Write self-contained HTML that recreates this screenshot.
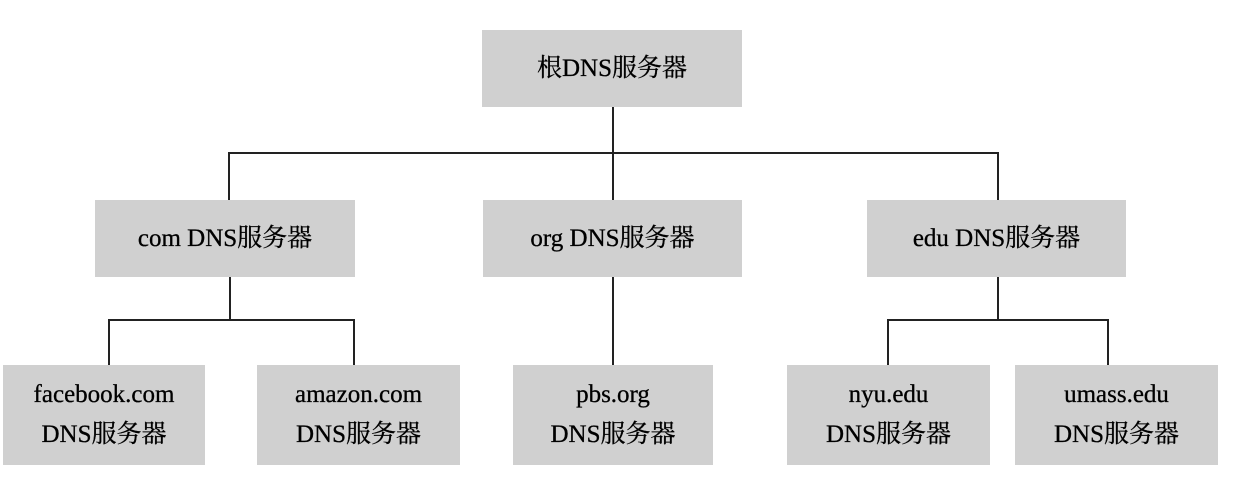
<!DOCTYPE html>
<html><head><meta charset="utf-8"><style>
body{margin:0;width:1244px;height:494px;background:#fff;position:relative;overflow:hidden;font-family:"Liberation Serif","Noto Serif CJK SC",serif;color:#000}
.b{position:absolute;background:#d0d0d0;display:flex;align-items:center;justify-content:center;text-align:center;font-size:25px;line-height:40px;-webkit-text-stroke:0.3px #000}
.l{position:absolute;background:#222}
</style></head><body>
<div class="b" style="left:482px;top:30px;width:260px;height:77px">根DNS服务器</div>
<div class="b" style="left:95px;top:200px;width:260px;height:77px">com DNS服务器</div>
<div class="b" style="left:483px;top:200px;width:259px;height:77px">org DNS服务器</div>
<div class="b" style="left:867px;top:200px;width:259px;height:77px">edu DNS服务器</div>
<div class="b" style="left:3px;top:365px;width:202px;height:100px">facebook.com<br>DNS服务器</div>
<div class="b" style="left:257px;top:365px;width:203px;height:100px">amazon.com<br>DNS服务器</div>
<div class="b" style="left:513px;top:365px;width:200px;height:100px">pbs.org<br>DNS服务器</div>
<div class="b" style="left:787px;top:365px;width:203px;height:100px">nyu.edu<br>DNS服务器</div>
<div class="b" style="left:1015px;top:365px;width:203px;height:100px">umass.edu<br>DNS服务器</div>
<div class="l" style="left:612px;top:107px;width:2px;height:93px"></div>
<div class="l" style="left:228px;top:152px;width:771px;height:2px"></div>
<div class="l" style="left:228px;top:152px;width:2px;height:48px"></div>
<div class="l" style="left:997px;top:152px;width:2px;height:48px"></div>
<div class="l" style="left:229px;top:277px;width:2px;height:43px"></div>
<div class="l" style="left:108px;top:319px;width:247px;height:2px"></div>
<div class="l" style="left:108px;top:319px;width:2px;height:46px"></div>
<div class="l" style="left:353px;top:319px;width:2px;height:46px"></div>
<div class="l" style="left:612px;top:277px;width:2px;height:88px"></div>
<div class="l" style="left:997px;top:277px;width:2px;height:43px"></div>
<div class="l" style="left:887px;top:319px;width:222px;height:2px"></div>
<div class="l" style="left:887px;top:319px;width:2px;height:46px"></div>
<div class="l" style="left:1107px;top:319px;width:2px;height:46px"></div>
</body></html>
